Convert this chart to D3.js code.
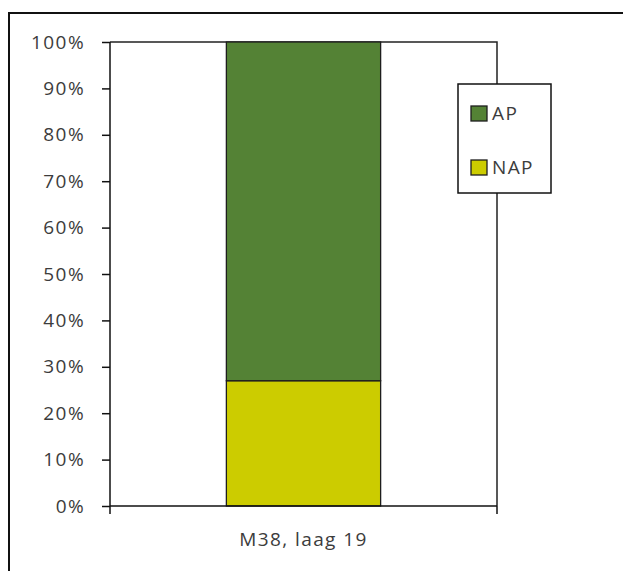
<!DOCTYPE html>
<html>
<head>
<meta charset="utf-8">
<script src="https://cdn.jsdelivr.net/npm/d3@7/dist/d3.min.js"></script>
<style>
  html, body { margin: 0; padding: 0; background: #fff; }
  svg { display: block; }
  .lbl { font-family: "Open Sans", sans-serif; font-size: 19px; letter-spacing: 1.4px; fill: #3c3c3c; }
</style>
</head>
<body>
<svg id="chart" width="623" height="571"></svg>
<script>
// Pollen sum composition for one sample (percent of total)
const categories = ["M38, laag 19"];
const seriesNames = ["NAP", "AP"];           // stacked bottom to top
const napValues = [27];
const apValues = [73];
const yTicks = [0, 10, 20, 30, 40, 50, 60, 70, 80, 90, 100];
const legendOrder = ["AP", "NAP"];
const colors = { AP: "#548235", NAP: "#cccc00" };

const rows = categories.map((c, i) => ({ cat: c, NAP: napValues[i], AP: apValues[i] }));

const W = 623, H = 571;
const plot = { left: 110, right: 497, top: 42, bottom: 506 };

const svg = d3.select("#chart");

// chart frame (runs past the right and bottom edges)
svg.append("rect")
  .attr("x", 9).attr("y", 13)
  .attr("width", W + 20).attr("height", H + 20)
  .attr("fill", "#fff").attr("stroke", "#111").attr("stroke-width", 2);

const x = d3.scaleBand()
  .domain(categories)
  .range([plot.left, plot.right])
  .paddingInner(0.43).paddingOuter(0.43);

const y = d3.scaleLinear()
  .domain([0, 100])
  .range([plot.bottom, plot.top]);

const stacked = d3.stack().keys(seriesNames)(rows);

// plot area outline: top and right edges
svg.append("path")
  .attr("d", `M${plot.left},${y(100)}H${plot.right}V${y(0)}`)
  .attr("fill", "none").attr("stroke", "#222").attr("stroke-width", 1.5);

// stacked bars
svg.append("g").selectAll("g")
  .data(stacked).join("g")
  .attr("fill", d => colors[d.key])
  .selectAll("rect")
  .data(d => d).join("rect")
  .attr("x", d => x(d.data.cat))
  .attr("width", x.bandwidth())
  .attr("y", d => y(d[1]))
  .attr("height", d => y(d[0]) - y(d[1]))
  .attr("stroke", "#1e1e1e").attr("stroke-width", 1.3);

// value axis
const yAxis = d3.axisLeft(y)
  .tickValues(yTicks)
  .tickFormat(d => d + "%")
  .tickSize(8).tickPadding(17);

const gy = svg.append("g")
  .attr("transform", `translate(${plot.left},0)`)
  .call(yAxis);
gy.select(".domain").attr("stroke", "#111").attr("stroke-width", 1.5).attr("d", `M0,${y(100)}V${y(0)}`);
gy.selectAll(".tick line").attr("stroke", "#111").attr("stroke-width", 1.5);
gy.selectAll(".tick text").attr("class", "lbl").attr("font-family", null).attr("font-size", null).attr("fill", null);

// category axis: line along zero, ticks at category boundaries
const xAxis = d3.axisBottom(x).tickSize(0).tickPadding(27);
const gx = svg.append("g")
  .attr("transform", `translate(0,${y(0)})`)
  .call(xAxis);
gx.select(".domain").attr("stroke", "#111").attr("stroke-width", 1.5).attr("d", `M${plot.left},0H${plot.right}`);
gx.selectAll(".tick text").attr("class", "lbl").attr("font-family", null).attr("font-size", null).attr("fill", null);

const bounds = [x.range()[0], x.range()[1]];
gx.selectAll("line.bound")
  .data(bounds).join("line")
  .attr("class", "bound")
  .attr("x1", d => d).attr("x2", d => d)
  .attr("y1", 0).attr("y2", 8)
  .attr("stroke", "#111").attr("stroke-width", 1.5);

// legend
const legend = svg.append("g").attr("transform", "translate(458,84)");
legend.append("rect")
  .attr("width", 93).attr("height", 109)
  .attr("fill", "#fff").attr("stroke", "#111").attr("stroke-width", 1.5);

const items = legend.selectAll("g.item")
  .data(legendOrder).join("g")
  .attr("class", "item")
  .attr("transform", (d, i) => `translate(13,${22 + i * 54})`);

items.append("rect")
  .attr("width", 16).attr("height", 15)
  .attr("fill", d => colors[d])
  .attr("stroke", "#1e1e1e").attr("stroke-width", 1.3);

items.append("text")
  .attr("class", "lbl")
  .attr("x", 21).attr("y", 7.5)
  .attr("dy", "0.35em")
  .text(d => d);
</script>
</body>
</html>
